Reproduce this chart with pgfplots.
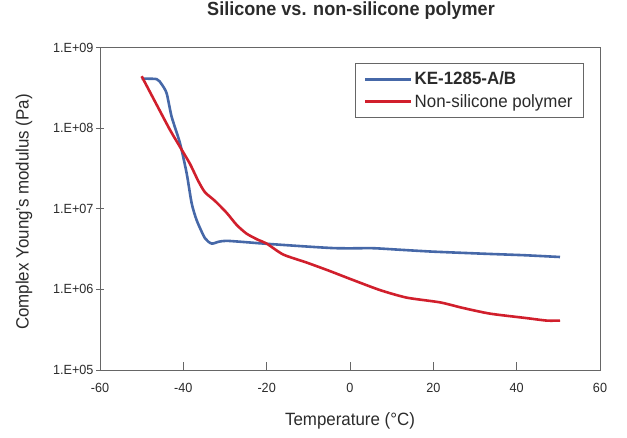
\documentclass[border=0pt]{standalone}
\usepackage{pgfplots}
\pgfplotsset{compat=1.18}
\usepackage{fontspec}
\setmainfont{Liberation Sans}[FakeStretch=0.95]
\definecolor{kblue}{HTML}{4668A8}
\definecolor{kred}{HTML}{D11F2C}
\definecolor{txt}{HTML}{2B2B2B}
\definecolor{axc}{HTML}{666666}
\begin{document}
\begin{tikzpicture}[x=1pt,y=1pt]
\begin{axis}[
  at={(100pt,67pt)}, anchor=south west, scale only axis,
  width=500pt, height=322.5pt,
  xmin=-60, xmax=60, ymode=log, log basis y=10, ymin=1e5, ymax=1e9,
  xtick={-60,-40,-20,0,20,40,60},
  ytick={1e5,1e6,1e7,1e8,1e9},
  yticklabels={1.E+05,1.E+06,1.E+07,1.E+08,1.E+09},
  yminorticks=false, xminorticks=false,
  xtick pos=bottom, ytick pos=left, tick align=inside,
  major tick length=8pt,
  x tick style={axc, line width=0.8pt},
  y tick style={axc, line width=0.8pt, xshift=-4pt},
  axis line style={axc, line width=0.9pt},
  /pgf/number format/assume math mode=true,
  ticklabel style={font=\fontsize{13.3}{15}\selectfont, text=txt},
  yticklabel style={xshift=-3pt},
  xticklabel style={yshift=-10pt},
  xlabel={Temperature (°C)},
  ylabel={Complex Young's modulus (Pa)},
  label style={font=\fontsize{17.8}{20}\selectfont, text=txt},
  xlabel style={at={(axis description cs:0.5,-0.158)}, anchor=center},
  ylabel style={at={(axis description cs:-0.152,0.49)}, anchor=center},
  title={\textbf{Silicone vs. non-silicone polymer}},
  title style={font=\fontsize{19}{21}\selectfont, text=txt, at={(axis description cs:0.502,1.0946)}, anchor=center},
  legend style={at={(axis description cs:0.968,0.953)}, anchor=north east,
    draw=axc, fill=white, line width=0.8pt, font=\fontsize{17.8}{20}\selectfont, text=txt,
    inner xsep=9pt, inner ysep=7pt, row sep=4pt, cells={anchor=west}},
  legend image code/.code={\draw[#1, line width=2.8pt] (0pt,0pt) -- (46pt,0pt);},
]
\addplot[kblue, line width=2.6pt, smooth, tension=0.4] coordinates {
(-50,4.1e8) (-46.4,4.05e8) (-45.2,3.5e8) (-44,2.7e8) (-42.8,1.38e8) (-40.8,6.5e7)
(-39.2,2.75e7) (-38,1.17e7) (-36.8,7.2e6) (-34.8,4.3e6) (-33.2,3.7e6) (-31.5,3.9e6)
(-29.6,4.0e6) (-25,3.85e6) (-20.8,3.7e6) (-10.4,3.4e6) (-4,3.25e6) (0,3.23e6)
(5.6,3.24e6) (12,3.1e6) (19.2,2.95e6) (26,2.85e6) (33.6,2.75e6) (42,2.65e6) (50.4,2.52e6)
};
\addlegendentry{\textbf{KE-1285-A/B}}
\addplot[kred, line width=2.6pt, smooth, tension=0.4] coordinates {
(-50,4.4e8) (-46.4,1.95e8) (-43.2,9.5e7) (-40.4,5.4e7) (-38.4,3.6e7) (-36.4,2.2e7)
(-34.8,1.6e7) (-32.4,1.25e7) (-29.6,8.9e6) (-27.2,6.3e6) (-24.8,4.9e6) (-22,4.1e6) (-20,3.7e6)
(-16,2.7e6) (-10.4,2.15e6) (-5,1.7e6) (0,1.35e6) (7.2,9.8e5)
(13.6,7.9e5) (21.6,6.9e5) (27,5.9e5) (33.6,5.0e5) (42.4,4.4e5) (47.2,4.1e5) (50.4,4.1e5)
};
\addlegendentry{Non-silicone polymer}
\end{axis}
\pgfresetboundingbox
\path (0pt,0pt) rectangle (627pt,437pt);
\end{tikzpicture}
\end{document}
